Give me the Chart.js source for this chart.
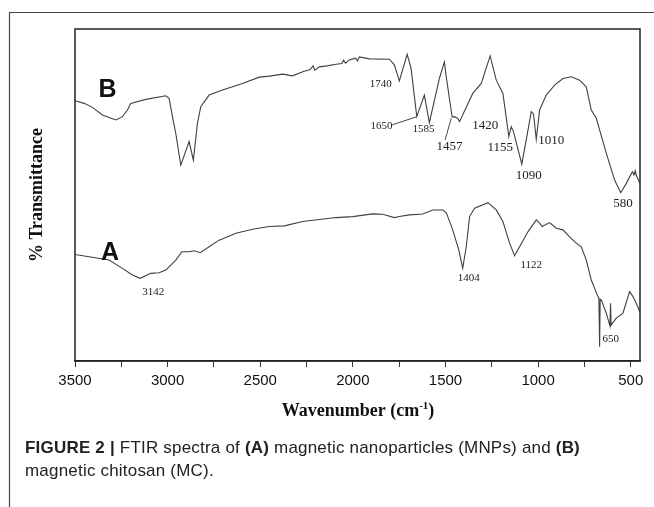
<!DOCTYPE html>
<html><head><meta charset="utf-8">
<script src="https://cdn.jsdelivr.net/npm/chart.js@4.4.1/dist/chart.umd.min.js"></script>
<style>
html,body{margin:0;padding:0;background:#fff;}
#wrap{position:relative;width:654px;height:507px;overflow:hidden;}
canvas{position:absolute;left:0;top:0;}
#cap{position:absolute;left:25px;top:437px;font-family:'Liberation Sans Narrow','Liberation Sans',sans-serif;font-size:17px;line-height:22.5px;letter-spacing:0.2px;color:#222;white-space:nowrap;}
#cap b{font-weight:bold;}
</style></head>
<body><div id="wrap"><canvas id="c" width="654" height="507"></canvas>
<div id="cap"><b>FIGURE 2 |</b> FTIR spectra of <b>(A)</b> magnetic nanoparticles (MNPs) and <b>(B)</b><br>magnetic chitosan (MC).</div></div>
<script>
// Spectrum B: magnetic chitosan (MC)
const wnB = [3500,3451,3406,3352,3280,3244,3217,3199,3118,3010,2992,2974,2956,2929,2884,2861,2839,2821,2776,2704,2596,2505,2451,2379,2325,2271,2230,2215,2205,2181,2140,2091,2060,2050,2040,2019,1985,1975,1965,1911,1803,1776,1749,1707,1686,1655,1614,1587,1533,1506,1496,1464,1451,1434,1424,1353,1307,1259,1226,1190,1158,1145,1133,1088,1061,1037,1025,1010,992,956,911,866,820,776,740,713,686,632,587,554,524,491,482,476,470,451];
const tB  = [78.4,77.6,76.4,74.1,72.6,73.6,75.6,77.6,78.8,79.9,79.1,73.6,68.6,59.0,66.1,60.5,71.6,76.6,80.1,81.6,83.6,85.5,85.8,86.4,85.9,87.1,87.8,88.9,87.6,88.6,88.9,89.4,89.6,90.6,89.7,90.7,91.2,90.4,91.6,91.0,90.9,89.2,84.4,92.4,88.2,73.6,80.1,71.8,85.1,90.1,85.6,73.5,73.6,73.1,72.1,80.6,83.6,91.9,84.6,80.6,67.6,70.6,69.1,59.3,67.6,75.1,74.4,66.8,75.6,80.1,83.1,85.1,85.6,84.6,82.6,75.6,73.1,62.6,54.5,50.7,53.5,57.0,56.0,57.3,56.0,53.5];
// Spectrum A: magnetic nanoparticles (MNPs)
const wnA = [3500,3424,3316,3244,3190,3149,3091,3046,3010,2956,2923,2884,2857,2824,2776,2722,2631,2542,2451,2370,2271,2091,2001,1893,1839,1776,1749,1695,1623,1569,1515,1496,1461,1428,1407,1388,1370,1343,1271,1226,1190,1154,1127,1100,1055,1010,992,978,938,902,866,830,794,767,740,713,677,672,668,665,659,632,612,609,606,603,578,542,506,488,470,451];
const tA  = [32.1,31.4,30.4,27.9,25.9,24.9,26.4,26.6,27.4,30.4,32.9,32.9,33.2,32.6,34.4,36.4,38.5,39.7,40.5,40.7,42.0,43.2,43.5,44.3,44.2,43.2,43.5,44.0,44.3,45.5,45.5,44.7,39.5,33.4,27.9,34.4,43.5,46.0,47.7,45.5,42.0,35.5,31.7,34.4,38.9,42.5,41.5,40.5,41.7,40.0,39.5,37.4,35.5,34.4,30.4,24.4,19.4,19.0,4.3,18.6,18.4,14.4,10.5,17.4,10.8,10.8,12.9,14.4,20.9,19.4,17.4,14.8];
// Axis ticks
const tickValues = [3500,3250,3000,2750,2500,2250,2000,1750,1500,1250,1000,750,500];
const tickLabels = ['3500','','3000','','2500','','2000','','1500','','1000','','500'];
// Peak annotations
const annText = ['1740','1650','1585','1457','1420','1155','1010','1090','580','3142','1404','1122','650'];
const annWn   = [1850,1846,1619,1479,1286,1205,929,1050,542,3077,1374,1037,608];
const annT    = [83.4,70.6,69.8,64.5,70.9,64.4,66.4,56.0,47.5,20.6,24.9,28.9,6.5];
const annBig  = [false,false,false,true,true,true,true,true,true,false,false,false,false];
const seriesNames = ['B','A'];
const seriesWn = [3325,3311];
const seriesT = [81.6,32.5];
const leaders = [[1790,71.1,1659,73.5],[1502,66.6,1469,73.1]];

const toPts = (xs, ys) => xs.map((x,i)=>({x:x,y:ys[i]}));

const deco = {
  id:'deco',
  afterDraw(chart){
    const ctx = chart.ctx, a = chart.chartArea, xs = chart.scales.x, ys = chart.scales.y;
    ctx.save();
    // outer figure border
    ctx.strokeStyle = '#444'; ctx.lineWidth = 1.2;
    ctx.beginPath(); ctx.moveTo(9.5,507); ctx.lineTo(9.5,12.5); ctx.lineTo(654,12.5); ctx.stroke();
    // plot frame
    ctx.strokeStyle = '#222'; ctx.lineWidth = 1.5;
    ctx.strokeRect(a.left, a.top, a.right-a.left, a.bottom-a.top);
    // y title
    ctx.fillStyle = '#111';
    ctx.save();
    ctx.translate(37, (a.top+a.bottom)/2);
    ctx.rotate(-Math.PI/2);
    ctx.font = 'bold 18px "Liberation Serif", serif';
    ctx.textAlign = 'center'; ctx.textBaseline = 'middle';
    ctx.fillText('% Transmittance', 0, 0);
    ctx.restore();
    // x title with superscript
    const mainT = 'Wavenumber (cm', sup = '-1', tail = ')';
    const fMain = 'bold 18px "Liberation Serif", serif', fSup = 'bold 11px "Liberation Serif", serif';
    ctx.font = fMain; const w1 = ctx.measureText(mainT).width, w3 = ctx.measureText(tail).width;
    ctx.font = fSup; const w2 = ctx.measureText(sup).width;
    let x0 = 358 - (w1+w2+w3)/2, by = 416;
    ctx.textAlign = 'left'; ctx.textBaseline = 'alphabetic';
    ctx.font = fMain; ctx.fillText(mainT, x0, by);
    ctx.font = fSup; ctx.fillText(sup, x0+w1, by-7);
    ctx.font = fMain; ctx.fillText(tail, x0+w1+w2, by);
    // series letters
    ctx.font = 'bold 25px "Liberation Sans", sans-serif';
    ctx.textAlign = 'center'; ctx.textBaseline = 'middle';
    seriesNames.forEach((s,i)=>ctx.fillText(s, xs.getPixelForValue(seriesWn[i]), ys.getPixelForValue(seriesT[i])));
    // peak labels
    ctx.fillStyle = '#222';
    annText.forEach((t,i)=>{
      ctx.font = (annBig[i] ? '13px' : '11px') + ' "Liberation Serif", serif';
      ctx.fillText(t, xs.getPixelForValue(annWn[i]), ys.getPixelForValue(annT[i]));
    });
    // leader lines
    ctx.strokeStyle = '#333'; ctx.lineWidth = 0.9;
    leaders.forEach(l=>{
      ctx.beginPath();
      ctx.moveTo(xs.getPixelForValue(l[0]), ys.getPixelForValue(l[1]));
      ctx.lineTo(xs.getPixelForValue(l[2]), ys.getPixelForValue(l[3]));
      ctx.stroke();
    });
    ctx.restore();
  }
};

new Chart(document.getElementById('c'), {
  type:'line',
  data:{datasets:[
    {label:'B', data:toPts(wnB,tB), borderColor:'#404040', borderWidth:1.1, pointRadius:0, tension:0, fill:false},
    {label:'A', data:toPts(wnA,tA), borderColor:'#404040', borderWidth:1.1, pointRadius:0, tension:0, fill:false}
  ]},
  options:{
    responsive:false, devicePixelRatio:1, animation:false,
    layout:{padding:{top:29,right:14,left:0,bottom:0}},
    plugins:{legend:{display:false}, tooltip:{enabled:false}},
    scales:{
      x:{type:'linear', reverse:true, min:450, max:3500,
        afterBuildTicks:s=>{ s.ticks = tickValues.map(v=>({value:v})); },
        ticks:{autoSkip:false, maxRotation:0, padding:5, color:'#111',
          font:{family:'"Liberation Sans", sans-serif', size:15},
          callback:(v)=>{ const i = tickValues.indexOf(v); return i>=0 ? tickLabels[i] : ''; }},
        grid:{drawOnChartArea:false, drawTicks:true, tickLength:6, color:'#333'},
        border:{display:true, color:'#222', width:1.5},
        afterFit:s=>{ s.height = 146; }
      },
      y:{min:0, max:100,
        ticks:{display:false}, grid:{display:false, drawTicks:false}, border:{display:false},
        afterFit:s=>{ s.width = 75; }
      }
    }
  },
  plugins:[deco]
});
</script>
</body></html>
